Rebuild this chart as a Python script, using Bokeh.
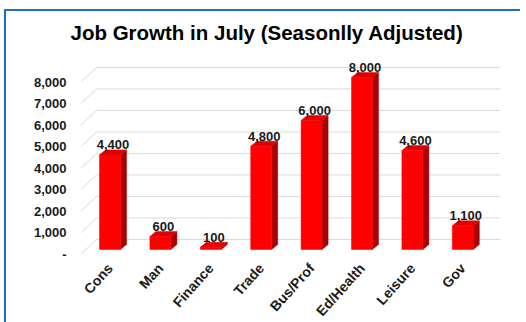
import numpy as np
from bokeh.plotting import figure
from bokeh.models import Range1d, FixedTicker, NumeralTickFormatter
from bokeh.core.properties import value
from bokeh.embed import file_html
from bokeh.resources import INLINE

# ---- data ----
categories = ["Cons", "Man", "Finance", "Trade", "Bus/Prof", "Ed/Health", "Leisure", "Gov"]
jobs = [4400, 600, 100, 4800, 6000, 8000, 4600, 1100]
y_ticks = [0, 1000, 2000, 3000, 4000, 5000, 6000, 7000, 8000]
title_text = "Job Growth in July (Seasonlly Adjusted)"

# ---- 3D style constants (axis units) ----
HALF_W = 0.208      # half width of bar front face
DEPTH_X = 0.12      # bar depth, x
DEPTH_Y = 233       # bar depth, y
BAR_BASE = 233      # bars sit slightly behind the front plane
WALL_X0 = -0.268    # back wall start
WALL_X1 = 7.75      # back wall end
WALL_DY = 700       # back wall vertical shift
X0, X1 = -0.585, 7.947
Y1 = 9488

FONT = "Liberation Sans"
TXT = "#1a1a1a"
BLUE = "#1F6FC5"

xs = np.arange(len(categories), dtype=float)
vals = np.array(jobs, dtype=float)
left = xs - HALF_W
right = xs + HALF_W
bottom = np.full_like(xs, BAR_BASE)
top = vals + BAR_BASE

p = figure(frame_width=430, frame_height=204, x_range=Range1d(X0, X1), y_range=Range1d(0, Y1),
           output_backend="svg", toolbar_location=None,
           min_border_left=74, min_border_right=10, min_border_top=39, min_border_bottom=40)
p.outline_line_color = None
p.xgrid.visible = False
p.ygrid.visible = False
p.background_fill_color = "white"
p.border_fill_color = "white"
p.styles = {"border-left": f"2px solid {BLUE}", "border-top": f"2px solid {BLUE}",
            "margin-left": "4px", "margin-top": "9px", "margin-bottom": "-30px"}

# title
p.title.text = title_text
p.title.align = "left"
p.title.offset = -10
p.title.text_font = FONT
p.title.text_font_size = "20.5px"
p.title.text_font_style = "bold"
p.title.text_color = "#000000"
p.title.standoff = 14

# gridlines on back wall + side wall diagonals
gt = np.array(y_ticks, dtype=float)
p.segment(x0=np.full_like(gt, WALL_X0), y0=gt + WALL_DY, x1=np.full_like(gt, WALL_X1), y1=gt + WALL_DY,
          line_color="#d9d9d9", line_width=1)
p.segment(x0=np.full_like(gt, X0), y0=gt, x1=np.full_like(gt, WALL_X0), y1=gt + WALL_DY,
          line_color="#d9d9d9", line_width=1)

# bars: side faces, top faces, front faces
side_xs = [[r, r + DEPTH_X, r + DEPTH_X, r] for r in right]
side_ys = [[b, b + DEPTH_Y, t + DEPTH_Y, t] for b, t in zip(bottom, top)]
p.patches(side_xs, side_ys, fill_color="#A80000", line_color="#A80000", line_width=0.5)
top_xs = [[l, r, r + DEPTH_X, l + DEPTH_X] for l, r in zip(left, right)]
top_ys = [[t, t, t + DEPTH_Y, t + DEPTH_Y] for t in top]
p.patches(top_xs, top_ys, fill_color="#E00000", line_color="#E00000", line_width=0.5)
p.quad(left=left, right=right, bottom=bottom, top=top, fill_color="#FF0000", line_color="#FF0000", line_width=0.5)

# value labels
labels = [f"{int(v):,}" for v in jobs]
p.text(x=xs + DEPTH_X / 2, y=top + DEPTH_Y, text=labels, text_align="center", text_baseline="alphabetic",
       y_offset=-5, text_font=value(FONT), text_font_style="bold", text_font_size="13px", text_color=TXT)

# axes
p.yaxis.ticker = FixedTicker(ticks=y_ticks)
p.yaxis.formatter = NumeralTickFormatter(format="0,0")
p.yaxis.major_label_overrides = {0: "-"}
p.xaxis.ticker = FixedTicker(ticks=list(xs))
p.xaxis.major_label_overrides = {float(i): c for i, c in enumerate(categories)}
p.xaxis.major_label_orientation = 0.84
for ax in (p.xaxis, p.yaxis):
    ax.axis_line_color = None
    ax.major_tick_line_color = None
    ax.minor_tick_line_color = None
    ax.major_tick_out = 0
    ax.major_tick_in = 0
    ax.minor_tick_out = 0
    ax.major_label_text_font = FONT
    ax.major_label_text_font_style = "bold"
    ax.major_label_text_color = TXT
p.yaxis.major_label_text_font_size = "13px"
p.xaxis.major_label_text_font_size = "14px"
p.yaxis.major_label_standoff = 14
p.xaxis.major_label_standoff = 11

open("out.html", "w").write(file_html(p, INLINE))
